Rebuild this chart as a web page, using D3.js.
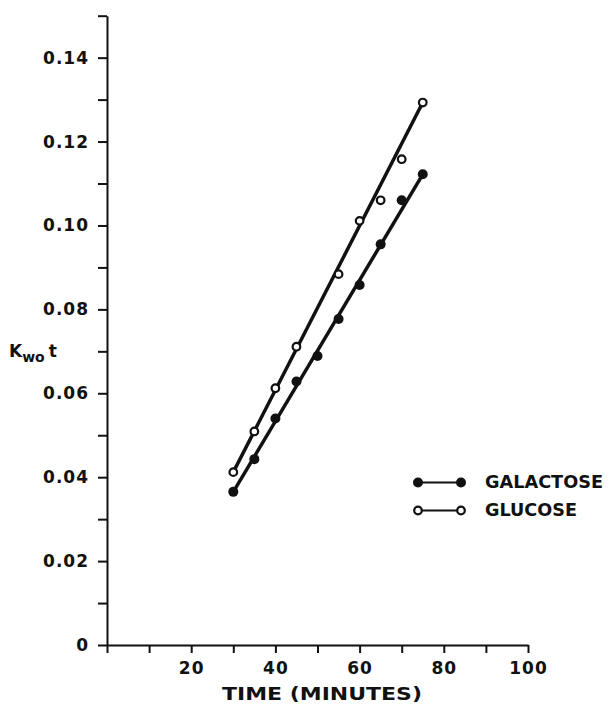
<!DOCTYPE html>
<html>
<head>
<meta charset="utf-8">
<script src="https://cdn.jsdelivr.net/npm/d3@7"></script>
<style>
  body { margin: 0; background: #fff; }
  svg { display: block; font-family: "DejaVu Sans", sans-serif; font-weight: bold; }
</style>
</head>
<body>
<svg id="chart" width="611" height="706"></svg>
<script>
// DATA -----------------------------------------------------------
const galactoseTime = [30, 35, 40, 45, 50, 55, 60, 65, 70, 75]
const galactoseK = [0.0365, 0.0443, 0.054, 0.0628, 0.0689, 0.0777, 0.0858, 0.0955, 0.106, 0.1122]

const glucoseTime = [30, 35, 40, 45, 55, 60, 65, 70, 75]
const glucoseK = [0.0412, 0.0509, 0.0612, 0.0711, 0.0884, 0.1011, 0.106, 0.1158, 0.1293]

// fitted lines (start / end)
const galactoseFitTime = [30, 75]
const galactoseFitK = [0.0365, 0.1122]
const glucoseFitTime = [30, 75]
const glucoseFitK = [0.0412, 0.1293]

const xTicks = d3.range(0, 101, 10)
const xTickLabels = ["", "", "20", "", "40", "", "60", "", "80", "", "100"]
const yTicks = d3.range(0, 0.1501, 0.01)
const yTickLabels = ["0", "", "0.02", "", "0.04", "", "0.06", "", "0.08", "", "0.10", "", "0.12", "", "0.14", ""]

const legendNames = ["GALACTOSE", "GLUCOSE"]
const legendWidths = [118, 92]

// SCALES -----------------------------------------------------------
const svg = d3.select("#chart")

const xScale = d3.scaleLinear()
    .domain([0, 100])
    .range([107, 528])

const yScale = d3.scaleLinear()
    .domain([0, 0.15])
    .range([645, 15.7])

const ink = "#111"

// AXES -----------------------------------------------------------
const xAxisGenerator = d3.axisBottom(xScale)
    .tickValues(xTicks)
    .tickSize(8)
    .tickPadding(9)
    .tickSizeOuter(0)
    .tickFormat((d, i) => xTickLabels[i])

const xAxis = svg.append("g")
    .attr("transform", `translate(0, ${yScale(0)})`)
    .call(xAxisGenerator)

const yAxisGenerator = d3.axisLeft(yScale)
    .tickValues(yTicks)
    .tickSize(9)
    .tickPadding(9)
    .tickSizeOuter(0)
    .tickFormat((d, i) => yTickLabels[i])

const yAxis = svg.append("g")
    .attr("transform", `translate(${xScale(0)}, 0)`)
    .call(yAxisGenerator)

svg.selectAll(".domain, .tick line")
    .attr("stroke", ink)
    .attr("stroke-width", 2)

svg.selectAll(".tick text")
    .attr("fill", ink)
    .style("font-size", "17px")
    .style("font-family", "\"DejaVu Sans\", sans-serif")
    .style("font-weight", "bold")
    .style("letter-spacing", "1px")

// axis titles
svg.append("text")
    .attr("x", 222)
    .attr("y", 700)
    .attr("textLength", 200)
    .attr("lengthAdjust", "spacingAndGlyphs")
    .attr("fill", ink)
    .style("font-size", "18px")
    .text("TIME (MINUTES)")

const yLabel = svg.append("text")
    .attr("x", 9)
    .attr("y", 357)
    .attr("fill", ink)
    .style("font-size", "17px")
yLabel.append("tspan").text("K")
yLabel.append("tspan").attr("dy", 5).style("font-size", "14px").text("wo")
yLabel.append("tspan").attr("dy", -5).attr("dx", 4).text("t")

// DRAW DATA -----------------------------------------------------------
const line = d3.line()
    .x(d => xScale(d[0]))
    .y(d => yScale(d[1]))

svg.append("path")
    .datum(d3.zip(galactoseFitTime, galactoseFitK))
    .attr("d", line)
    .attr("fill", "none")
    .attr("stroke", ink)
    .attr("stroke-width", 3.5)

svg.append("path")
    .datum(d3.zip(glucoseFitTime, glucoseFitK))
    .attr("d", line)
    .attr("fill", "none")
    .attr("stroke", ink)
    .attr("stroke-width", 3.5)

svg.append("g")
    .selectAll("circle")
    .data(d3.zip(galactoseTime, galactoseK))
    .join("circle")
    .attr("cx", d => xScale(d[0]))
    .attr("cy", d => yScale(d[1]))
    .attr("r", 5)
    .attr("fill", ink)

svg.append("g")
    .selectAll("circle")
    .data(d3.zip(glucoseTime, glucoseK))
    .join("circle")
    .attr("cx", d => xScale(d[0]))
    .attr("cy", d => yScale(d[1]))
    .attr("r", 3.8)
    .attr("fill", "#fff")
    .attr("stroke", ink)
    .attr("stroke-width", 2.2)

// LEGEND -----------------------------------------------------------
const legend = svg.append("g")
    .attr("transform", "translate(418, 482.5)")

legendNames.forEach((name, i) => {
    const row = legend.append("g")
        .attr("transform", `translate(0, ${i * 28})`)
    row.append("line")
        .attr("x1", 0).attr("x2", 43)
        .attr("stroke", ink)
        .attr("stroke-width", 1.8)
    ;[0, 43].forEach(cx => {
        const c = row.append("circle")
            .attr("cx", cx)
            .attr("r", i == 0 ? 5 : 3.8)
        if (i == 0) {
            c.attr("fill", ink)
        } else {
            c.attr("fill", "#fff").attr("stroke", ink).attr("stroke-width", 2.2)
        }
    })
    row.append("text")
        .attr("x", 67)
        .attr("y", 5.5)
        .attr("textLength", legendWidths[i])
        .attr("lengthAdjust", "spacingAndGlyphs")
        .attr("fill", ink)
        .style("font-size", "18px")
        .text(name)
})
</script>
</body>
</html>
